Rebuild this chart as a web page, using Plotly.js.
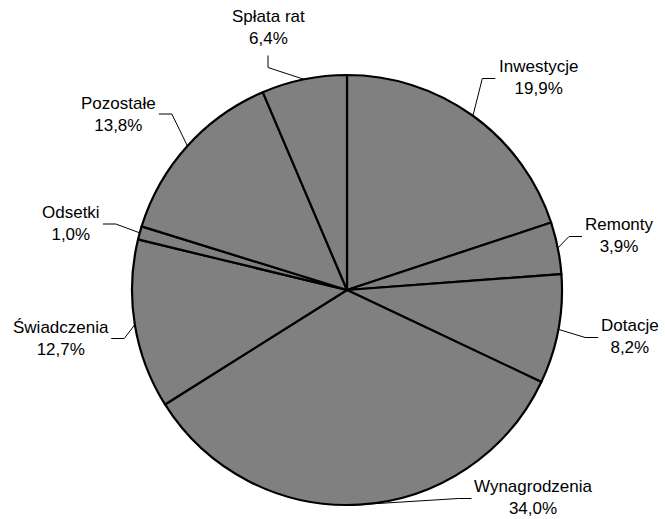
<!DOCTYPE html>
<html>
<head>
<meta charset="utf-8">
<script src="https://cdn.plot.ly/plotly-3.0.1.min.js"></script>
<style>html,body{margin:0;padding:0;background:#fff;}#chart{width:665px;height:519px;}</style>
</head>
<body>
<div id="chart"></div>
<script>
// ---- data ----
const categories = ["Inwestycje", "Remonty", "Dotacje", "Wynagrodzenia", "Świadczenia", "Odsetki", "Pozostałe", "Spłata rat"];
const shares = [19.9, 3.9, 8.2, 34.0, 12.7, 1.0, 13.8, 6.4];

// ---- layout config (pixels) ----
const W = 665, H = 519;
const CX = 347, CY = 290, R = 215;
const FONT = "Arial, 'Liberation Sans', sans-serif";
const FS = 17;
// label block centres and the side where the leader line attaches
const labelPlacement = [
  {x: 538, y: 77.5, side: "left"},
  {x: 619, y: 235.5, side: "left"},
  {x: 630, y: 336.5, side: "left"},
  {x: 533.5, y: 497.5, side: "left"},
  {x: 60.5, y: 338.5, side: "right"},
  {x: 71, y: 224, side: "right"},
  {x: 118.5, y: 114, side: "right"},
  {x: 268, y: 27.5, side: "bottom"}
];

const px = v => v / W;
const py = v => 1 - v / H;

const ctx = document.createElement("canvas").getContext("2d");
ctx.font = FS + "px " + FONT;

const total = shares.reduce((a, b) => a + b, 0);
const fmt = v => v.toFixed(1).replace(".", ",") + "%";

const annotations = [];
const shapes = [];
let cum = 0;
shares.forEach((v, i) => {
  const mid = (cum + v / 2) / total * 2 * Math.PI;
  cum += v;
  const ex = CX + R * Math.sin(mid);
  const ey = CY - R * Math.cos(mid);
  const lp = labelPlacement[i];
  const pct = fmt(v);
  annotations.push({
    text: categories[i] + "<br>" + pct,
    x: px(lp.x), y: py(lp.y), xref: "paper", yref: "paper",
    xanchor: "center", yanchor: "middle", showarrow: false, align: "center",
    borderpad: 0,
    font: {family: FONT, size: FS, color: "#000"}
  });
  const tw = Math.max(ctx.measureText(categories[i]).width, ctx.measureText(pct).width);
  let p1, p2;
  if (lp.side === "left") {
    p2 = [lp.x - tw / 2 - 3, lp.y + 1];
    p1 = [p2[0] - 13, lp.y + 1];
  } else if (lp.side === "right") {
    p2 = [lp.x + tw / 2 + 3, lp.y];
    p1 = [p2[0] + 13, lp.y];
  } else {
    p2 = [lp.x, lp.y + 28];
    p1 = [lp.x, lp.y + 40];
  }
  shapes.push({
    type: "path", xref: "paper", yref: "paper",
    path: "M " + px(p2[0]) + "," + py(p2[1]) + " L " + px(p1[0]) + "," + py(p1[1]) + " L " + px(ex) + "," + py(ey),
    line: {color: "#000", width: 1}
  });
});

const trace = {
  type: "pie",
  labels: categories,
  values: shares,
  sort: false,
  direction: "clockwise",
  rotation: 0,
  textposition: "none",
  textinfo: "none",
  hoverinfo: "label+percent",
  marker: {colors: categories.map(() => "#808080"), line: {color: "#000", width: 2.2}},
  domain: {x: [px(CX - R), px(CX + R)], y: [py(CY + R), py(CY - R)]}
};

const layout = {
  width: W, height: H,
  margin: {l: 0, r: 0, t: 0, b: 0},
  paper_bgcolor: "#fff",
  showlegend: false,
  annotations: annotations,
  shapes: shapes
};

Plotly.newPlot("chart", [trace], layout, {displayModeBar: false, staticPlot: true});
</script>
</body>
</html>
